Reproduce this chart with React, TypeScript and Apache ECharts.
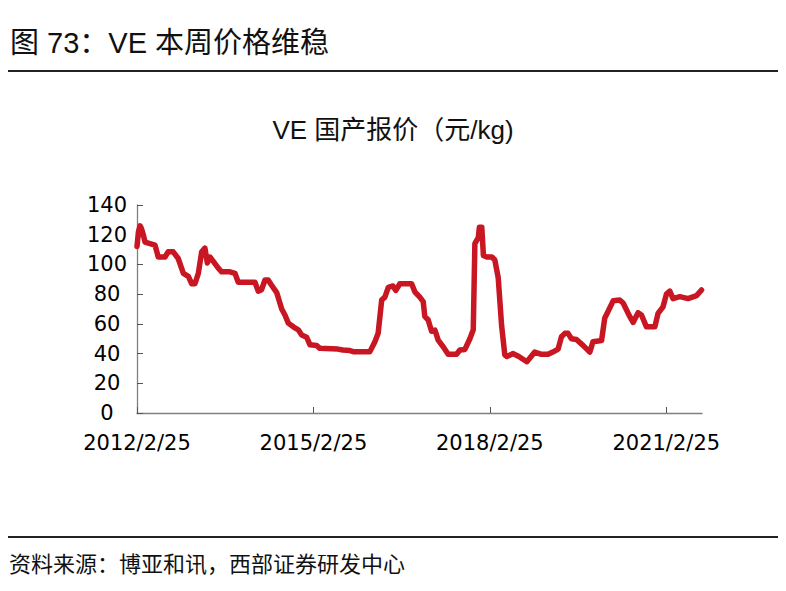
import React, { useEffect, useRef } from "react";
import * as echarts from "echarts";

const dates = [
  "2012-02-25", "2012-03-05", "2012-03-15", "2012-03-24", "2012-04-04", "2012-04-15",
  "2012-05-16", "2012-06-16", "2012-07-06", "2012-08-17", "2012-09-06", "2012-10-07",
  "2012-11-07", "2012-12-09", "2013-01-09", "2013-01-30", "2013-02-19", "2013-03-12",
  "2013-04-02", "2013-04-22", "2013-05-07", "2013-05-23", "2013-06-13", "2013-07-14",
  "2013-08-04", "2013-09-25", "2013-10-26", "2013-11-15", "2014-02-27", "2014-03-19",
  "2014-04-09", "2014-04-30", "2014-05-20", "2014-06-10", "2014-07-12", "2014-08-12",
  "2014-09-01", "2014-09-22", "2014-10-23", "2014-11-23", "2014-12-14", "2015-01-14",
  "2015-02-03", "2015-03-17", "2015-04-06", "2015-07-27", "2015-08-27", "2015-10-10",
  "2015-10-30", "2016-02-11", "2016-03-13", "2016-04-02", "2016-04-24", "2016-05-14",
  "2016-06-04", "2016-07-03", "2016-07-21", "2016-08-15", "2016-10-27", "2016-11-16",
  "2016-12-17", "2017-01-07", "2017-01-17", "2017-02-07", "2017-02-28", "2017-03-21",
  "2017-04-10", "2017-05-11", "2017-06-11", "2017-08-02", "2017-08-23", "2017-09-23",
  "2017-10-24", "2017-11-14", "2017-11-24", "2017-12-15", "2017-12-22", "2018-01-06",
  "2018-01-16", "2018-02-06", "2018-03-10", "2018-03-28", "2018-04-18", "2018-05-09",
  "2018-05-29", "2018-06-11", "2018-07-20", "2018-08-24", "2018-10-13", "2018-12-01",
  "2019-01-12", "2019-02-22", "2019-03-23", "2019-04-25", "2019-05-16", "2019-06-06",
  "2019-06-26", "2019-07-17", "2019-08-17", "2019-09-27", "2019-11-08", "2019-11-28",
  "2020-01-20", "2020-02-09", "2020-03-01", "2020-04-01", "2020-05-12", "2020-06-02",
  "2020-07-13", "2020-08-03", "2020-09-03", "2020-09-24", "2020-10-25", "2020-12-16",
  "2021-01-05", "2021-02-05", "2021-02-26", "2021-03-19", "2021-04-08", "2021-05-20",
  "2021-07-10", "2021-09-01", "2021-10-02",
];

const prices = [
  112, 122, 126, 124, 120, 115,
  114, 113, 105, 105, 108.5, 108.5,
  104, 94, 92, 87, 87, 94,
  108.5, 111, 101, 105, 102, 97.5,
  95, 95, 94, 88, 88, 82,
  83, 89.5, 89.5, 86, 81, 70,
  66, 60.5, 58, 56, 52.5, 51,
  46, 45.5, 43.5, 43, 42.4, 42,
  41.3, 41.3, 48, 53.6, 76, 78,
  84.5, 85.5, 82.5, 87, 87, 81.6,
  78, 75, 65, 62.6, 55, 55.8,
  49, 44.6, 39.5, 39.5, 42.4, 42.8,
  50, 56, 114, 118, 125, 125,
  106, 105, 105, 103, 91, 59,
  39, 38, 40, 38, 34.5, 41,
  39.5, 39.5, 41, 43, 51.3, 53.6,
  53.6, 50, 49.5, 45.5, 41, 48,
  48.8, 64, 68.5, 75.5, 76, 74,
  65, 61, 67.5, 66, 58, 58,
  67, 71.5, 80, 82, 77, 78.3,
  77, 79, 82.8,
];

const xTickLabels = ["2012/2/25", "2015/2/25", "2018/2/25", "2021/2/25"];
const xTickDays = [0, 1096, 2192, 3288];
const yMin = 0;
const yMax = 140;
const yStep = 20;

const titleText = "图 73：VE 本周价格维稳";
const chartTitle = "VE 国产报价（元/kg)";
const sourceText = "资料来源：博亚和讯，西部证券研发中心";

const START = Date.UTC(2012, 1, 25);
const toDay = (s: string) => {
  const [y, m, d] = s.split("-").map(Number);
  return Math.round((Date.UTC(y, m - 1, d) - START) / 86400000);
};

export default function App() {
  const ref = useRef<HTMLDivElement>(null);
  useEffect(() => {
    if (!ref.current) return;
    const chart = echarts.init(ref.current, null, { renderer: "svg" });
    const cjk = "'Liberation Sans', 'Noto Sans CJK SC', sans-serif";
    const num = "'DejaVu Sans', sans-serif";
    chart.setOption({
      animation: false,
      backgroundColor: "#ffffff",
      grid: { left: 137, right: 84, top: 205, bottom: 178, containLabel: false },
      xAxis: {
        type: "value",
        min: 0,
        max: 3510,
        axisLine: { show: true, lineStyle: { color: "#808080", width: 1.3 } },
        axisTick: {
          show: true,
          inside: true,
          length: 6,
          customValues: xTickDays,
          lineStyle: { color: "#555555", width: 1 },
        },
        axisLabel: {
          customValues: xTickDays,
          formatter: (v: number) => {
            const i = xTickDays.indexOf(Math.round(v));
            return i >= 0 ? xTickLabels[i] : "";
          },
          fontSize: 21,
          fontFamily: num,
          color: "#000000",
          margin: 19,
        },
        splitLine: { show: false },
      },
      yAxis: {
        type: "value",
        min: yMin,
        max: yMax,
        interval: yStep,
        axisLine: { show: true, lineStyle: { color: "#808080", width: 1.3 } },
        axisTick: { show: true, inside: true, length: 6, lineStyle: { color: "#555555" } },
        axisLabel: {
          fontSize: 21,
          fontFamily: num,
          color: "#000000",
          margin: 30,
          align: "center",
        },
        splitLine: { show: false },
      },
      series: [
        {
          type: "line",
          data: dates.map((d, i) => [toDay(d), prices[i]]),
          showSymbol: false,
          symbol: "none",
          lineStyle: { width: 5.5, color: "#C81623", join: "round", cap: "round" },
          z: 3,
        },
      ],
      graphic: [
        {
          type: "text",
          left: 10,
          top: 28,
          style: { text: titleText, font: `29px ${cjk}`, fill: "#111111" },
        },
        {
          type: "line",
          shape: { x1: 8, y1: 71, x2: 778, y2: 71 },
          style: { stroke: "#222222", lineWidth: 2 },
        },
        {
          type: "text",
          x: 393,
          y: 130,
          style: {
            text: chartTitle,
            font: `26px ${cjk}`,
            fill: "#111111",
            align: "center",
            verticalAlign: "middle",
          },
        },
        {
          type: "line",
          shape: { x1: 8, y1: 537, x2: 778, y2: 537 },
          style: { stroke: "#222222", lineWidth: 2 },
        },
        {
          type: "text",
          x: 9,
          y: 562,
          style: {
            text: sourceText,
            font: `22px 'Noto Sans CJK SC', sans-serif`,
            fill: "#111111",
            verticalAlign: "middle",
          },
        },
      ],
    });
    return () => chart.dispose();
  }, []);
  return (
    <div
      ref={ref}
      style={{ position: "fixed", left: 0, top: 0, width: 786, height: 591, background: "#fff" }}
    />
  );
}
